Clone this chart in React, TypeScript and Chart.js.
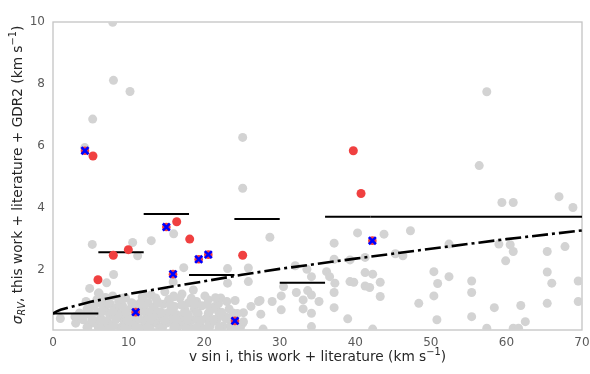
import { useEffect, useRef } from "react";
import { Chart, registerables } from "chart.js";

Chart.register(...registerables);

const xTicks = [0, 10, 20, 30, 40, 50, 60, 70];
const yTicks = [2, 4, 6, 8, 10];

// Full sample (light grey)
const sampleX = [
  7.9, 8.0, 10.19, 5.25, 25.1, 4.2, 57.4, 25.1,
  5.2, 10.54, 11.2, 13.0, 15.97, 17.3, 8.02, 7.1, 4.85, 0.97, 17.07, 15.97, 18.57,
  23.1, 23.1, 25.85, 25.85, 15.9, 6.0, 26.2, 27.2,
  28.7, 37.2, 40.3, 43.8, 47.3, 52.4, 56.4, 59.4, 60.9, 66.96, 68.8, 59.0, 60.5, 60.9, 59.9,
  65.4, 67.75, 65.4, 66.0, 69.5, 69.5, 65.4, 61.9, 62.5, 60.9, 61.6, 58.4, 57.4, 55.4, 55.4,
  55.4, 52.4, 50.9, 50.4, 50.4, 48.4, 50.8, 46.3, 45.3, 43.3, 43.3, 42.3, 41.3, 41.3, 41.9,
  42.3, 39.3, 39.8, 39.3, 41.3, 37.2, 37.2, 37.2, 39.0, 36.2, 36.6, 37.3, 34.2, 33.7, 34.2,
  35.2, 33.1, 33.1, 34.2, 32.2, 30.2, 30.2, 30.5, 29.0, 27.4, 27.5, 25.2, 25.1, 32.05, 33.6,
  34.2, 27.8,
  2.9, 3.0, 3.1, 4.2,
  3.5, 4.0, 4.37, 4.5, 4.8, 5.0, 5.3, 5.6, 5.8, 5.9, 6.1, 6.0,
  6.3, 6.5, 6.7, 6.9, 7.1, 7.2, 7.5, 7.6, 7.9, 8.0, 8.2, 8.4, 8.5, 8.7, 8.9, 9.0, 9.2, 9.4,
  9.3, 9.6, 9.8, 10.0, 10.2, 10.4, 10.6, 10.9, 11.1, 11.3, 11.5, 11.7, 11.9, 12.0, 12.2,
  12.4, 12.6, 12.8, 13.0, 13.2, 13.3, 13.6, 13.8, 14.0, 14.2, 14.4, 14.6, 14.8, 15.0, 15.1,
  15.3, 15.6, 15.8, 16.1, 16.4, 16.6, 16.8, 17.0, 17.0, 17.3, 17.5, 17.9, 17.9, 18.1,
  18.4, 18.7, 19.0, 19.2, 19.4, 19.7, 20.1, 20.3, 20.55, 20.55, 20.8, 21.0,
  21.4, 21.6, 21.9, 22.2, 22.5, 22.8, 23.0, 23.3, 23.6, 24.1, 24.4, 24.8, 25.2,
  5.5, 6.8, 8.1, 9.7, 10.8, 12.1, 13.5, 14.9, 16.2, 17.6, 19.1, 20.6, 21.8, 23.2,
  4.6, 7.0, 9.1, 11.0, 12.9, 14.1, 16.0, 18.0, 19.8, 22.0, 24.0,
  4.5, 6.2, 7.8, 9.5, 11.0, 12.5, 14.5, 16.0, 17.6, 19.0, 20.5, 22.0, 23.5,
  5.2, 6.6, 8.3, 9.9, 11.4, 12.9, 14.7, 16.3, 17.8, 19.6, 21.2, 22.9,
  4.8, 6.4, 7.9, 9.6, 11.1, 12.7, 14.3, 15.9, 17.4, 19.0, 20.7, 22.3, 23.8,
  5.6, 7.3, 8.9, 10.6, 12.2, 13.9, 15.5, 17.1, 18.8, 20.4, 21.9,
  6.9, 9.0, 11.8, 13.6, 16.0, 18.3, 21.5,
];
const sampleY = [
  9.99, 8.12, 7.76, 6.87, 6.28, 5.95, 7.75, 4.64,
  2.83, 2.89, 2.46, 2.95, 3.17, 2.08, 1.86, 1.59, 1.41, 0.44, 1.23, 1.17, 1.36,
  2.05, 1.58, 2.07, 1.63, 1.62, 1.26, 0.83, 0.99,
  3.06, 2.87, 3.2, 3.16, 3.27, 2.84, 5.37, 4.18, 4.18, 4.37, 4.02, 2.84, 2.82, 2.6, 2.3,
  2.6, 2.76, 1.94, 1.58, 1.65, 0.99, 0.93, 0.86, 0.34, 0.13, 0.13, 0.79, 0.13, 1.65, 1.28,
  0.5, 1.79, 1.57, 1.95, 1.17, 0.93, 0.4, 2.46, 2.53, 1.61, 1.15, 1.87, 1.92, 1.49, 1.44,
  0.1, 1.63, 1.61, 2.33, 2.41, 2.35, 1.28, 0.79, 0.43, 1.95, 1.79, 1.58, 1.79, 1.34, 1.2,
  0.99, 1.04, 0.75, 0.61, 1.28, 1.17, 0.72, 1.47, 0.99, 1.02, 0.58, 0.63, 0.29, 2.14, 2.03,
  0.18, 0.1,
  0.5, 0.29, 0.5, 0.56,
  0.62, 0.4, 0.99, 0.75, 0.25, 0.55, 0.85, 0.35, 1.05, 0.65, 1.26, 0.15,
  0.45, 0.9, 0.2, 0.7, 1.1, 0.35, 0.55, 0.9, 1.17, 0.25, 0.7, 0.77, 0.45, 1.0, 0.15, 0.6, 0.85, 0.35,
  1.1, 1.1, 0.5, 0.2, 0.75, 0.95, 0.4, 0.25, 0.85, 0.55, 0.93, 0.15, 0.7, 1.15, 0.4,
  0.6, 0.95, 0.25, 1.2, 0.5, 0.8, 0.3, 1.0, 0.65, 0.15, 0.45, 0.9, 1.3, 0.6, 0.3,
  1.05, 0.75, 0.45, 0.83, 0.56, 0.2, 1.1, 0.88, 0.5, 0.3, 0.7, 0.94, 0.56, 0.15,
  0.4, 0.75, 0.99, 0.61, 0.25, 0.85, 1.17, 0.45, 1.04, 0.61, 0.2, 0.75,
  0.83, 0.35, 0.66, 1.1, 0.2, 0.5, 0.99, 0.75, 0.3, 1.02, 0.6, 0.15, 0.34,
  0.3, 0.3, 0.55, 0.3, 0.55, 0.35, 0.55, 0.35, 0.3, 0.4, 0.4, 0.3, 0.45, 0.45,
  0.1, 0.1, 0.12, 0.1, 0.1, 0.12, 0.1, 0.12, 0.1, 0.12, 0.1,
  0.16, 0.14, 0.17, 0.15, 0.16, 0.14, 0.15, 0.17, 0.14, 0.16, 0.15, 0.14, 0.17,
  0.42, 0.38, 0.41, 0.39, 0.43, 0.4, 0.38, 0.42, 0.4, 0.39, 0.41, 0.43,
  0.66, 0.64, 0.67, 0.65, 0.63, 0.66, 0.64, 0.67, 0.65, 0.63, 0.66, 0.64, 0.62,
  0.9, 0.92, 0.88, 0.91, 0.89, 0.93, 0.9, 0.87, 0.91, 0.89, 0.92,
  1.12, 1.08, 1.13, 1.1, 1.14, 1.09, 1.11,
];

// Highlighted stars (red)
const redX = [5.29, 5.95, 7.98, 9.97, 16.37, 18.09, 25.1, 39.74, 40.76];
const redY = [5.68, 1.69, 2.48, 2.66, 3.56, 3.0, 2.48, 5.85, 4.47];

// Flagged stars (red with blue cross)
const flagX = [4.23, 10.94, 15.0, 15.88, 19.28, 20.55, 24.08, 42.26];
const flagY = [5.85, 0.645, 3.39, 1.87, 2.35, 2.5, 0.365, 2.95];

// Binned levels (solid black steps)
const binEdges = [0, 6, 12, 18, 24, 30, 36, 42, 70];
const binLevels = [0.6, 2.58, 3.81, 1.84, 3.65, 1.59, 3.72, 3.72];

// Limit curve (dash-dot)
const limitX = [0, 0.5, 1, 2, 3, 5, 7.5, 10, 15, 20, 25, 30, 40, 50, 60, 70];
const limitY = [0.6, 0.67, 0.72, 0.79, 0.85, 0.98, 1.1, 1.23, 1.44, 1.64, 1.85, 2.04, 2.37, 2.69, 3.0, 3.28];

const FONT = "'DejaVu Sans', sans-serif";
const TEXT = "#262626";

type Part = { t: string; size: number; italic?: boolean; dy?: number };

function drawRich(ctx: CanvasRenderingContext2D, parts: Part[], cx: number, cy: number, rot: number) {
  ctx.save();
  ctx.translate(cx, cy);
  ctx.rotate(rot);
  ctx.fillStyle = TEXT;
  ctx.textBaseline = "middle";
  ctx.textAlign = "left";
  const widths = parts.map((p) => {
    ctx.font = `${p.italic ? "italic " : ""}${p.size}px ${FONT}`;
    return ctx.measureText(p.t).width;
  });
  const total = widths.reduce((a, b) => a + b, 0);
  let x = -total / 2;
  parts.forEach((p, i) => {
    ctx.font = `${p.italic ? "italic " : ""}${p.size}px ${FONT}`;
    ctx.fillText(p.t, x, p.dy || 0);
    x += widths[i];
  });
  ctx.restore();
}

const framePlugin = {
  id: "frameAndTitles",
  beforeDatasetsDraw(chart: any) {
    const { ctx, chartArea: a } = chart;
    ctx.save();
    ctx.strokeStyle = "#c4c4c4";
    ctx.lineWidth = 1.3;
    ctx.strokeRect(a.left, a.top, a.right - a.left, a.bottom - a.top);
    ctx.restore();
  },
  afterDraw(chart: any) {
    const { ctx, chartArea: a } = chart;
    const S = 13.7;
    const s = 9.8;
    drawRich(
      ctx,
      [
        { t: "v sin i, this work + literature (km s", size: S },
        { t: "\u22121", size: s, dy: -5 },
        { t: ")", size: S },
      ],
      (a.left + a.right) / 2,
      357,
      0
    );
    drawRich(
      ctx,
      [
        { t: "\u03c3", size: S, italic: true },
        { t: "RV", size: s, italic: true, dy: 4 },
        { t: ", this work + literature + GDR2 (km s", size: S },
        { t: "\u22121", size: s, dy: -5 },
        { t: ")", size: S },
      ],
      18,
      175,
      -Math.PI / 2
    );
  },
};

export default function App() {
  const ref = useRef<HTMLCanvasElement | null>(null);

  useEffect(() => {
    if (!ref.current) return;
    const pts = (xs: number[], ys: number[]) => xs.map((x, i) => ({ x, y: ys[i] }));

    const steps = binLevels.map((lv, i) => ({
      type: "line" as const,
      data: [
        { x: binEdges[i], y: lv },
        { x: binEdges[i + 1], y: lv },
      ],
      borderColor: "#000000",
      borderWidth: 2,
      pointRadius: 0,
      fill: false,
      order: 3,
      clip: 0,
    }));

    const chart = new Chart(ref.current, {
      type: "scatter",
      data: {
        datasets: [
          {
            data: pts(flagX, flagY),
            pointStyle: "crossRot",
            pointRadius: 5,
            borderColor: "#0000ff",
            borderWidth: 2.6,
            backgroundColor: "#0000ff",
            order: 0,
            clip: 0,
          },
          {
            data: pts(flagX, flagY),
            pointRadius: 4.3,
            backgroundColor: "#f04040",
            borderWidth: 0,
            order: 1,
            clip: 0,
          },
          {
            data: pts(redX, redY),
            pointRadius: 4.5,
            backgroundColor: "#f04040",
            borderWidth: 0,
            order: 2,
            clip: 0,
          },
          {
            type: "line",
            data: pts(limitX, limitY),
            borderColor: "#000000",
            borderWidth: 2.6,
            borderDash: [16, 4, 3, 4],
            pointRadius: 0,
            fill: false,
            tension: 0,
            order: 3,
            clip: 0,
          },
          ...steps,
          {
            data: pts(sampleX, sampleY),
            pointRadius: 4.5,
            backgroundColor: "#d3d3d3",
            borderWidth: 0,
            order: 5,
            clip: 0,
          },
        ] as any,
      },
      options: {
        animation: false,
        responsive: false,
        events: [],
        layout: { padding: { top: 22, right: 8, left: 0, bottom: 0 } },
        plugins: {
          legend: { display: false },
          tooltip: { enabled: false },
        },
        scales: {
          x: {
            type: "linear",
            min: 0,
            max: 70,
            grid: { display: false, drawTicks: false },
            border: { display: false },
            ticks: {
              color: "#595959",
              font: { family: FONT, size: 12 },
              padding: 6,
            },
            afterBuildTicks: (axis: any) => {
              axis.ticks = xTicks.map((v) => ({ value: v }));
            },
            afterFit: (axis: any) => {
              axis.height = 44;
              axis.paddingLeft = 0;
              axis.paddingRight = 0;
            },
          },
          y: {
            type: "linear",
            min: 0.07,
            max: 10,
            grid: { display: false, drawTicks: false },
            border: { display: false },
            ticks: {
              color: "#595959",
              font: { family: FONT, size: 12 },
              padding: 8,
            },
            afterBuildTicks: (axis: any) => {
              axis.ticks = yTicks.map((v) => ({ value: v }));
            },
            afterFit: (axis: any) => {
              axis.width = 53;
              axis.paddingTop = 0;
              axis.paddingBottom = 0;
            },
          },
        },
      },
      plugins: [framePlugin],
    });

    return () => chart.destroy();
  }, []);

  return (
    <div style={{ position: "absolute", left: 0, top: 0, width: 590, height: 374, background: "#fff" }}>
      <canvas ref={ref} width={590} height={374} style={{ display: "block" }} />
    </div>
  );
}
